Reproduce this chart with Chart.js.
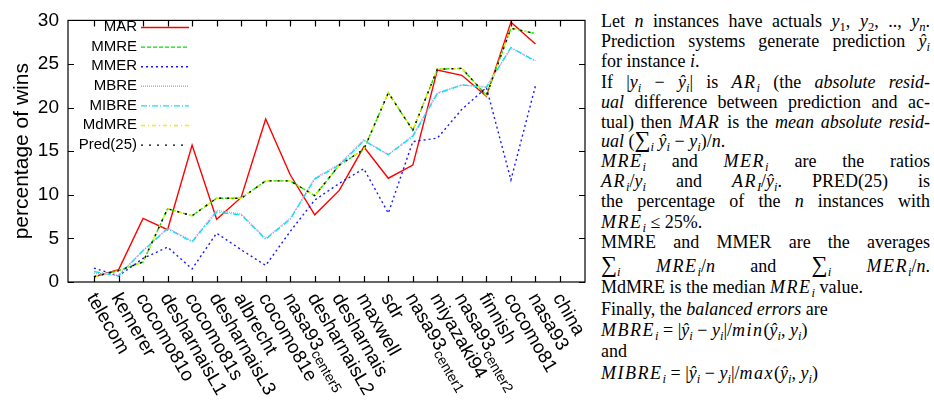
<!DOCTYPE html>
<html>
<head>
<meta charset="utf-8">
<script src="https://cdn.jsdelivr.net/npm/chart.js@4.4.0/dist/chart.umd.min.js"></script>
<style>
  body { margin: 0; background: #fff; width: 934px; height: 405px; overflow: hidden; position: relative; }
  #wrap { position: absolute; left: 0; top: 0; width: 590px; height: 405px; }
  #notes { position: absolute; left: 601px; top: 0; width: 329px; font-family: 'Liberation Serif', 'Times New Roman', serif; font-size: 18px; color: #000; }
  #notes div { position: absolute; left: 0; width: 329px; white-space: nowrap; line-height: 20px; }
  #notes div.j { text-align: justify; text-align-last: justify; }
  #notes i { font-style: italic; }
  #notes i.m { letter-spacing: 1.5px; }
  #notes sub { font-size: 70%; vertical-align: baseline; position: relative; top: 0.3em; line-height: 0; letter-spacing: 0; }
  #notes .sum { font-size: 125%; line-height: 0; }
</style>
</head>
<body>
<div id="wrap"><canvas id="chart" width="590" height="405"></canvas></div>

<div id="notes">
  <div class="j" style="top:11px">Let <i>n</i> instances have actuals <i>y</i><sub>1</sub>, <i>y</i><sub>2</sub>, .., <i>y<sub>n</sub></i>.</div>
  <div class="j" style="top:31px">Prediction systems generate prediction <i>ŷ<sub>i</sub></i></div>
  <div style="top:51px">for instance <i>i</i>.</div>
  <div class="j" style="top:72px">If |<i>y<sub>i</sub></i> − <i>ŷ<sub>i</sub></i>| is <i class="m">AR<sub>i</sub></i> (the <i>absolute resid-</i></div>
  <div class="j" style="top:92px"><i>ual</i> difference between prediction and ac-</div>
  <div class="j" style="top:112px">tual) then <i class="m">MAR</i> is the <i>mean absolute resid-</i></div>
  <div style="top:131px"><i>ual</i> (<span class="sum">∑</span><sub><i>i</i></sub> <i>ŷ<sub>i</sub></i> − <i>y<sub>i</sub></i>)/<i>n</i>.</div>
  <div class="j" style="top:151px"><i class="m">MRE<sub>i</sub></i> and <i class="m">MER<sub>i</sub></i> are the ratios</div>
  <div class="j" style="top:171px"><i class="m">AR<sub>i</sub></i>/<i>y<sub>i</sub></i> and <i class="m">AR<sub>I</sub></i>/<i>ŷ<sub>i</sub></i>. PRED(25) is</div>
  <div class="j" style="top:191px">the percentage of the <i>n</i> instances with</div>
  <div style="top:212px"><i class="m">MRE<sub>i</sub></i> ≤ 25%.</div>
  <div class="j" style="top:232px">MMRE and MMER are the averages</div>
  <div class="j" style="top:256px"><span class="sum">∑</span><sub><i>i</i></sub> <i class="m">MRE<sub>i</sub></i>/<i>n</i> and <span class="sum">∑</span><sub><i>i</i></sub> <i class="m">MER<sub>i</sub></i>/<i>n</i>.</div>
  <div style="top:277px">MdMRE is the median <i class="m">MRE<sub>i</sub></i> value.</div>
  <div style="top:299px">Finally, the <i>balanced errors</i> are</div>
  <div style="top:320px"><i class="m">MBRE<sub>i</sub></i> = |<i>ŷ<sub>i</sub></i> − <i>y<sub>i</sub></i>|/<i class="m">min</i>(<i>ŷ<sub>i</sub></i>, <i>y<sub>i</sub></i>)</div>
  <div style="top:341px">and</div>
  <div style="top:363px"><i class="m">MIBRE<sub>i</sub></i> = |<i>ŷ<sub>i</sub></i> − <i>y<sub>i</sub></i>|/<i class="m">max</i>(<i>ŷ<sub>i</sub></i>, <i>y<sub>i</sub></i>)</div>
</div>

<script>
const categories = ['telecom', 'kemerer', 'cocomo81o', 'desharnaisL1', 'cocomo81s', 'desharnaisL3', 'albrecht',
  'cocomo81e', 'nasa93center5', 'desharnaisL2', 'desharnais', 'maxwell', 'sdr', 'nasa93center1',
  'miyazaki94', 'nasa93center2', 'finnish', 'cocomo81', 'nasa93', 'china'];
const yTicks = [0, 5, 10, 15, 20, 25, 30];

// percentage of wins per data set (china has no value)
const mar    = [0.6, 1.4, 7.3, 6.0, 15.7, 7.2, 9.7, 18.7, 12.3, 7.7, 10.5, 15.5, 11.9, 13.4, 24.3, 23.7, 21.3, 29.8, 27.3, null];
const mmre   = [0.6, 1.3, 2.3, 8.4, 7.6, 9.6, 9.6, 11.6, 11.6, 9.9, 13.4, 15.2, 21.7, 17.4, 24.4, 24.5, 21.4, 29.1, 28.5, null];
const mmer   = [1.6, 0.7, 2.7, 4.0, 1.5, 5.6, 3.7, 1.9, 5.8, 9.4, 11.3, 13.0, 7.9, 16.1, 16.5, 19.8, 22.3, 11.7, 22.5, null];
const mbre   = [1.0, 0.8, 3.6, 6.2, 4.7, 8.2, 7.8, 5.0, 7.3, 11.9, 13.5, 16.3, 14.6, 16.8, 21.7, 22.6, 22.4, 26.8, 25.4, null];
const mibre  = [1.2, 0.7, 3.6, 6.1, 4.6, 8.0, 7.7, 4.9, 7.2, 11.8, 13.4, 16.2, 14.6, 16.7, 21.6, 22.6, 22.3, 26.9, 25.3, null];
const mdmre  = [0.6, 1.3, 2.3, 8.4, 7.6, 9.6, 9.6, 11.6, 11.6, 9.9, 13.4, 15.2, 21.7, 17.4, 24.4, 24.5, 21.4, 29.1, 28.5, null];
const pred25 = [0.6, 1.3, 2.3, 8.4, 7.6, 9.6, 9.6, 11.6, 11.6, 9.9, 13.4, 15.2, 21.7, 17.4, 24.4, 24.5, 21.4, 29.1, 28.5, null];

const FONT = "'Liberation Sans', Arial, sans-serif";

function pts(values) {
  return values.map((v, i) => ({ x: i, y: v }));
}

const series = [
  { label: 'MAR', data: mar, color: '#ff0000', dash: [] },
  { label: 'MMRE', data: mmre, color: '#00e000', dash: [4, 2] },
  { label: 'MMER', data: mmer, color: '#1818ff', dash: [2, 3] },
  { label: 'MBRE', data: mbre, color: '#ee88ee', dash: [1, 1] },
  { label: 'MIBRE', data: mibre, color: '#00e8f0', dash: [6, 2, 1, 2] },
  { label: 'MdMRE', data: mdmre, color: '#f0f000', dash: [4, 3, 1, 3] },
  { label: 'Pred(25)', data: pred25, color: '#000000', dash: [2, 6] }
];

// gnuplot style frame: border box, inward ticks, rotated x labels, legend
const gnuplotFrame = {
  id: 'gnuplotFrame',
  afterDatasetsDraw(chart) {
    const ctx = chart.ctx;
    const a = chart.chartArea;
    const xs = chart.scales.x, ys = chart.scales.y;
    ctx.save();
    ctx.strokeStyle = '#000';
    ctx.lineWidth = 1.2;
    ctx.strokeRect(a.left, a.top, a.right - a.left, a.bottom - a.top);
    ctx.beginPath();
    categories.forEach((c, i) => {
      const x = Math.round(xs.getPixelForValue(i)) + 0.5;
      ctx.moveTo(x, a.bottom); ctx.lineTo(x, a.bottom - 6);
      ctx.moveTo(x, a.top); ctx.lineTo(x, a.top + 6);
    });
    yTicks.forEach(t => {
      const y = Math.round(ys.getPixelForValue(t)) + 0.5;
      ctx.moveTo(a.left, y); ctx.lineTo(a.left + 6, y);
      ctx.moveTo(a.right, y); ctx.lineTo(a.right - 6, y);
    });
    ctx.stroke();

    // category labels, rotated, with subscript parts for nasa93 centers
    ctx.fillStyle = '#000';
    ctx.textAlign = 'left';
    ctx.textBaseline = 'middle';
    categories.forEach((c, i) => {
      const x = xs.getPixelForValue(i);
      ctx.save();
      ctx.translate(x - 3, a.bottom + 13);
      ctx.rotate(Math.PI / 3);
      const m = c.match(/^(nasa93)(center\d)$/);
      ctx.font = '19px ' + FONT;
      if (m) {
        ctx.fillText(m[1], 0, 0);
        const w = ctx.measureText(m[1]).width;
        ctx.font = '14px ' + FONT;
        ctx.fillText(m[2], w, 5);
      } else {
        ctx.fillText(c, 0, 0);
      }
      ctx.restore();
    });

    // legend
    ctx.font = '15px ' + FONT;
    ctx.textAlign = 'right';
    chart.data.datasets.forEach((ds, i) => {
      const y = 27 + i * 19.6;
      ctx.fillStyle = '#000';
      ctx.fillText(ds.label, a.left + 69, y);
      ctx.beginPath();
      ctx.strokeStyle = ds.borderColor;
      ctx.lineWidth = ds.borderWidth;
      ctx.setLineDash(ds.borderDash);
      ctx.moveTo(a.left + 73, y + 0.5);
      ctx.lineTo(a.left + 121, y + 0.5);
      ctx.stroke();
      ctx.setLineDash([]);
    });
    ctx.restore();
  }
};

new Chart(document.getElementById('chart'), {
  type: 'line',
  data: {
    datasets: series.map((s, i) => ({
      label: s.label,
      data: pts(s.data),
      borderColor: s.color,
      borderDash: s.dash,
      borderWidth: 1.4,
      pointRadius: 0,
      fill: false,
      tension: 0,
      spanGaps: false,
      order: series.length - i
    }))
  },
  options: {
    responsive: false,
    animation: false,
    layout: { padding: { top: 11, right: 5, left: 10, bottom: 0 } },
    plugins: { legend: { display: false }, tooltip: { enabled: false } },
    scales: {
      x: {
        type: 'linear',
        min: -1.06,
        max: 20.02,
        grid: { display: false },
        border: { display: false },
        ticks: { display: false },
        afterFit(scale) { scale.height = 123; }
      },
      y: {
        min: 0,
        max: 30,
        grid: { display: false, drawTicks: false },
        border: { display: false },
        ticks: {
          stepSize: 5,
          padding: 9,
          color: '#000',
          font: { family: FONT, size: 19 }
        },
        title: {
          display: true,
          text: 'percentage of wins',
          color: '#000',
          padding: { top: 0, bottom: 0 },
          font: { family: FONT, size: 21 }
        },
        afterFit(scale) { scale.width = 58; }
      }
    }
  },
  plugins: [gnuplotFrame]
});
</script>
</body>
</html>
